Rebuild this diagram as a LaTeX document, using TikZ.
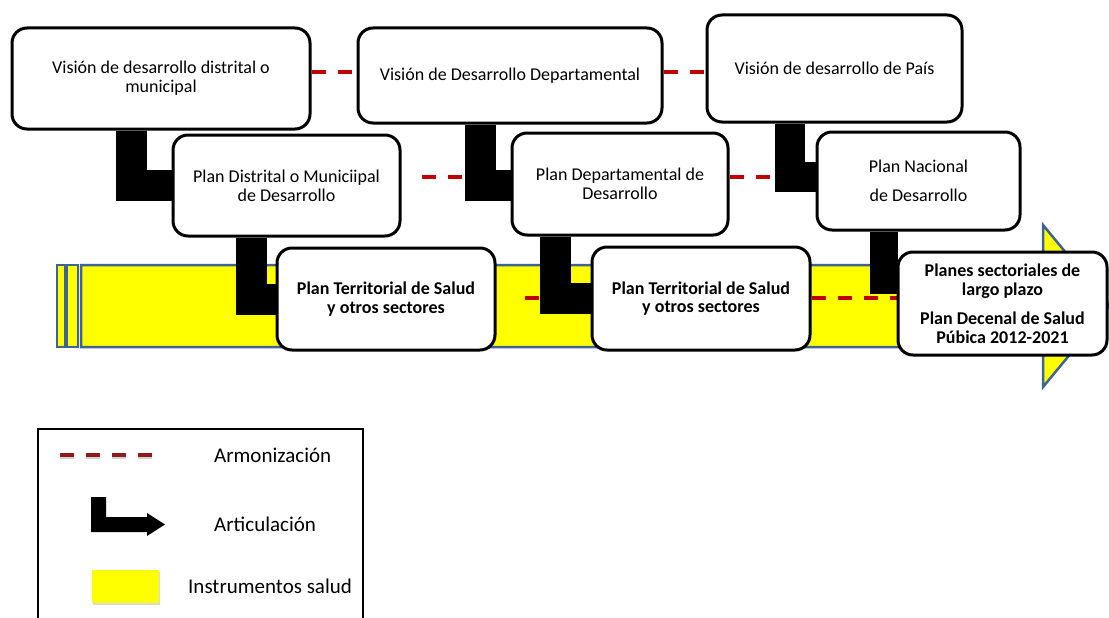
\documentclass[tikz,border=0pt]{standalone}
\usepackage{fontspec}
\setmainfont{Carlito}
\usetikzlibrary{calc,shadows}
\definecolor{harmred}{HTML}{C00000}
\definecolor{harmdark}{HTML}{8E1B1B}
\definecolor{bandblue}{HTML}{3F6395}
\definecolor{bandyellow}{HTML}{FFFF00}
\pgfdeclarelayer{bandlayer}
\pgfdeclarelayer{linklayer}
\pgfsetlayers{bandlayer,linklayer,main}
\tikzset{
  planbox/.style={draw=black, fill=white, line width=3pt, rounded corners=15pt,
    align=center, inner sep=0pt, font=\fontsize{18}{19}\selectfont},
  boldbox/.style={planbox, font=\fontsize{18}{18.5}\selectfont\bfseries},
  artic/.style={draw=black, line width=31pt, line join=miter},
  harm/.style={draw=harmred, line width=4pt, dash pattern=on 14pt off 12pt},
  band/.style={draw=bandblue, fill=bandyellow, line width=2.5pt, line join=miter},
  legtext/.style={anchor=west, inner sep=0pt, font=\fontsize{21}{22}\selectfont}
}
\begin{document}
\begin{tikzpicture}[x=1pt,y=-1pt]
\useasboundingbox (0,0) rectangle (1109,618);
\clip (0,0) rectangle (1109,618);

% yellow block arrow with its striped tail
\begin{pgfonlayer}{bandlayer}
\draw[band] (57,265) rectangle (65,347);
\draw[band] (67,265) rectangle (78,347);
\draw[band] (81,265) -- (1043,265) -- (1043,225) -- (1110,306) -- (1043,387)
  -- (1043,347) -- (81,347) -- cycle;
\end{pgfonlayer}

% plan boxes: vision row, development plan row, health plan row
\node[planbox, minimum width=298pt, minimum height=101pt] (a1) at (161,78.5)
  {Visión de desarrollo distrital o\\municipal};
\node[planbox, minimum width=304pt, minimum height=95pt] (a2) at (510,75.5)
  {Visión de Desarrollo Departamental};
\node[planbox, minimum width=255pt, minimum height=107pt] (a3) at (834.5,68.5)
  {Visión de desarrollo de País};
\node[planbox, minimum width=227pt, minimum height=101pt] (b1) at (286.5,185.5)
  {Plan Distrital o Municiipal\\de Desarrollo};
\node[planbox, minimum width=216pt, minimum height=102pt] (b2) at (620,184)
  {Plan Departamental de\\Desarrollo};
\node[planbox, minimum width=203pt, minimum height=98pt] (b3) at (918.5,181)
  {Plan Nacional\\[10pt]de Desarrollo};
\node[boldbox, minimum width=218pt, minimum height=102pt] (c1) at (386,299)
  {Plan Territorial de Salud\\y otros sectores};
\node[boldbox, minimum width=218pt, minimum height=103pt] (c2) at (701,298.5)
  {Plan Territorial de Salud\\y otros sectores};
\node[boldbox, minimum width=209pt, minimum height=103pt] (c3) at (1002.5,303.5)
  {Planes sectoriales de\\largo plazo\\[11pt]Plan Decenal de Salud\\Púbica 2012-2021};

% rows for the harmonization lines
\coordinate (rA) at (0,72);
\coordinate (rB) at (0,177);
\coordinate (rC) at (0,298);

\begin{pgfonlayer}{linklayer}
% harmonization (dashed red)
\draw[harm] (a1.east |- rA) -- (a2.west |- rA);
\draw[harm] (a2.east |- rA) -- (a3.west |- rA);
\draw[harm] ($(b1.east |- rB)+(20,0)$) -- (b2.west |- rB);
\draw[harm] (b2.east |- rB) -- (b3.west |- rB);
\draw[harm] ($(c1.east |- rC)+(28,0)$) -- (c2.west |- rC);
\draw[harm] (c2.east |- rC) -- (c3.west |- rC);
% articulation (thick black elbows)
\draw[artic] ([xshift=-29.5pt]a1.south) |- (b1.west);
\draw[artic] ([xshift=-35.5pt]b1.south) |- (c1.west);
\draw[artic] ([xshift=-29.5pt]a2.south) |- ([yshift=-1pt]b2.west);
\draw[artic] ([xshift=-64.5pt]b2.south) |- (c2.west);
\draw[artic, line width=30pt] ([xshift=-45pt]a3.south) |- ([yshift=4.5pt]b3.west);
\draw[artic, line width=28pt] ([xshift=-35pt]b3.south) |- ([yshift=23.5pt]c3.west);
\end{pgfonlayer}

% legend
\draw[line width=1.5pt] (38,429) rectangle (363,640);
\coordinate (lh1) at (60,455);
\coordinate (lh2) at (156,455);
\draw[harm, draw=black, opacity=0.18, line width=4.5pt] ([yshift=-2pt]lh1) -- ([yshift=-2pt]lh2);
\draw[harm, draw=harmdark] (lh1) -- (lh2);
\node[legtext] (tA) at (214,455) {Armonización};
\fill[black] (91,497) -- (106,497) -- (106,517) -- (147,517) -- (147,513)
  -- (165,524.5) -- (147,536) -- (147,532) -- (91,532) -- cycle;
\node[legtext] (tB) at (214,524) {Articulación};
\node[fill=bandyellow, minimum width=67pt, minimum height=33pt, inner sep=0pt,
  drop shadow={opacity=0.3, shadow xshift=1pt, shadow yshift=-2pt}] (ly) at (125.5,586.5) {};
\node[legtext] (tC) at (188,586) {Instrumentos salud};
\end{tikzpicture}
\end{document}
